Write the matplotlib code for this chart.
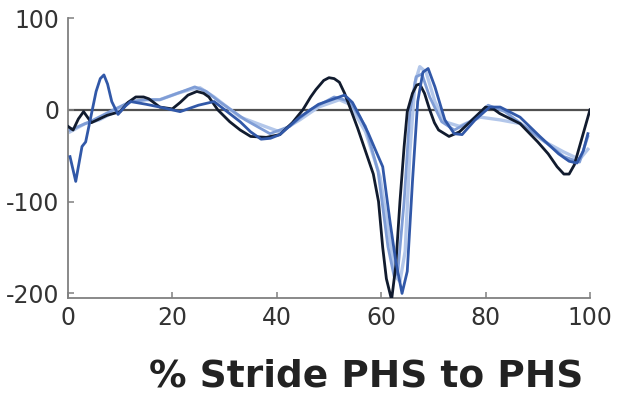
import matplotlib
matplotlib.use("Agg")
import matplotlib.pyplot as plt

plt.rcParams['axes.unicode_minus'] = False

# % stride (PHS to PHS) and the four traces
dark_x = [0, 1, 2, 3, 4.5, 6, 7.5, 10, 11.5, 13, 14.5, 15.5, 17.6, 20, 21.5, 23, 24.7, 26, 27, 28.7,
          31, 33, 35, 38, 40.6, 43, 45, 46.5, 47.5, 49, 50, 51, 52, 53, 54, 55.5, 57, 58.5, 59.5, 60.3,
          61, 62, 62.8, 63.6, 64.4, 65, 66, 66.8, 67.4, 68.3, 69.3, 70.2, 71, 73, 75, 76.5, 78, 80,
          81.5, 82.7, 86.6, 90, 92, 93.7, 95, 96, 97, 98.5, 100]
dark_y = [-18, -22, -10, -2, -14, -10, -6, -2, 8, 14, 14, 12, 3, 1, 8, 16, 20, 18, 14, 0,
          -13, -22, -29, -30, -27, -14, 0, 14, 22, 32, 35, 34, 30, 18, 3, -20, -45, -70, -100, -150,
          -184, -207, -170, -100, -40, -2, 18, 27, 28, 18, 0, -14, -22, -29, -24, -16, -8, 3,
          1, -4, -15, -35, -48, -62, -70, -70, -60, -30, 0]

blue_x = [0.4, 1.5, 2.7, 3.4, 4.2, 5.4, 6.2, 6.9, 7.6, 8.4, 9.6, 11, 12, 15, 17.6, 21.5, 25, 28,
          30.5, 33, 35, 37, 38.8, 40.6, 44.4, 48, 52, 53, 54.5, 56, 57.5, 59, 60.3, 61.7, 62.8, 64,
          65, 66, 67, 68, 69, 70.3, 72.2, 74, 75.5, 78, 80.8, 82.8, 86.6, 90.4, 94, 96, 97.5, 98.7,
          99.6]
blue_y = [-51, -78, -40, -35, -13, 20, 34, 38, 28, 9, -5, 4, 9, 6, 3, -2, 5, 9,
          -2, -13, -24, -32, -31, -27, -8, 6, 14, 16, 8, -8, -25, -45, -62, -122, -165, -200,
          -176, -78, 9, 41, 45, 25, -11, -26, -27, -11, 3, 3, -8, -29, -48, -56, -58, -45,
          -26]

light_x = [0.4, 3.3, 6, 9, 12, 15, 17.6, 21, 23.4, 25.3, 28, 30.5, 33, 37.7, 40.6, 44.4, 48, 52, 54,
           57, 59.8, 61.7, 62.8, 63.6, 64.6, 65.5, 66.5, 67.4, 68.6, 70.3, 72.2, 75, 79, 82.8, 86.6,
           91.4, 95, 98, 99.6]
light_y = [-24, -15, -11, -2, 9, 11, 11, 18, 22, 24, 14, 3, -8, -18, -24, -11, 3, 11, 6,
           -24, -73, -143, -182, -187, -154, -46, 30, 47, 41, 9, -13, -18, -8, -11, -15,
           -35, -46, -54, -43]

mid_x = [0.4, 4.2, 8, 12, 15, 17.6, 21, 24.3, 26.5, 29, 34, 38.7, 42.5, 46.4, 51, 54, 57, 59.4, 61.3,
         62.5, 63.2, 64.4, 65.5, 66.7, 67.8, 69.3, 71.6, 74, 77, 80.5, 83.7, 87.5, 91.4, 95, 98, 99.6]
mid_y = [-22, -13, -2, 9, 11, 11, 18, 25, 20, 9, -11, -26, -18, 0, 14, 9, -18, -67, -149,
         -182, -176, -100, -2, 36, 39, 14, -13, -22, -13, 5, -2, -18, -35, -51, -57, -29]

x_ticks = [0, 20, 40, 60, 80, 100]
y_ticks = [100, 0, -100, -200]

fig = plt.figure(figsize=(6.23, 3.96), dpi=100)
ax = fig.add_axes([0.109, 0.2475, 0.838, 0.707])

ax.plot([0, 100], [0, 0], color='#505050', lw=1.6, zorder=1)
ax.plot(light_x, light_y, color='#b3c7ea', lw=2.4, zorder=2)
ax.plot(mid_x, mid_y, color='#7f9dd6', lw=2.0, zorder=3)
ax.plot(dark_x, dark_y, color='#111b2e', lw=2.0, zorder=4)
ax.plot(blue_x, blue_y, color='#3158a8', lw=2.0, zorder=5)

ax.set_xlim(0, 100)
ax.set_ylim(-205, 100)
ax.set_xticks(x_ticks)
ax.set_yticks(y_ticks)
ax.spines['top'].set_visible(False)
ax.spines['right'].set_visible(False)
for s in ['left', 'bottom']:
    ax.spines[s].set_color('#808080')
    ax.spines[s].set_linewidth(1.3)
ax.tick_params(direction='in', length=4, width=1.1, color='#808080',
               labelsize=17, labelcolor='#333333', pad=6)

fig.text(0.936, 0.024, '% Stride PHS to PHS', ha='right', va='baseline',
         fontsize=27, fontweight='bold', color='#222222')

fig.savefig('out.png', dpi=100)
